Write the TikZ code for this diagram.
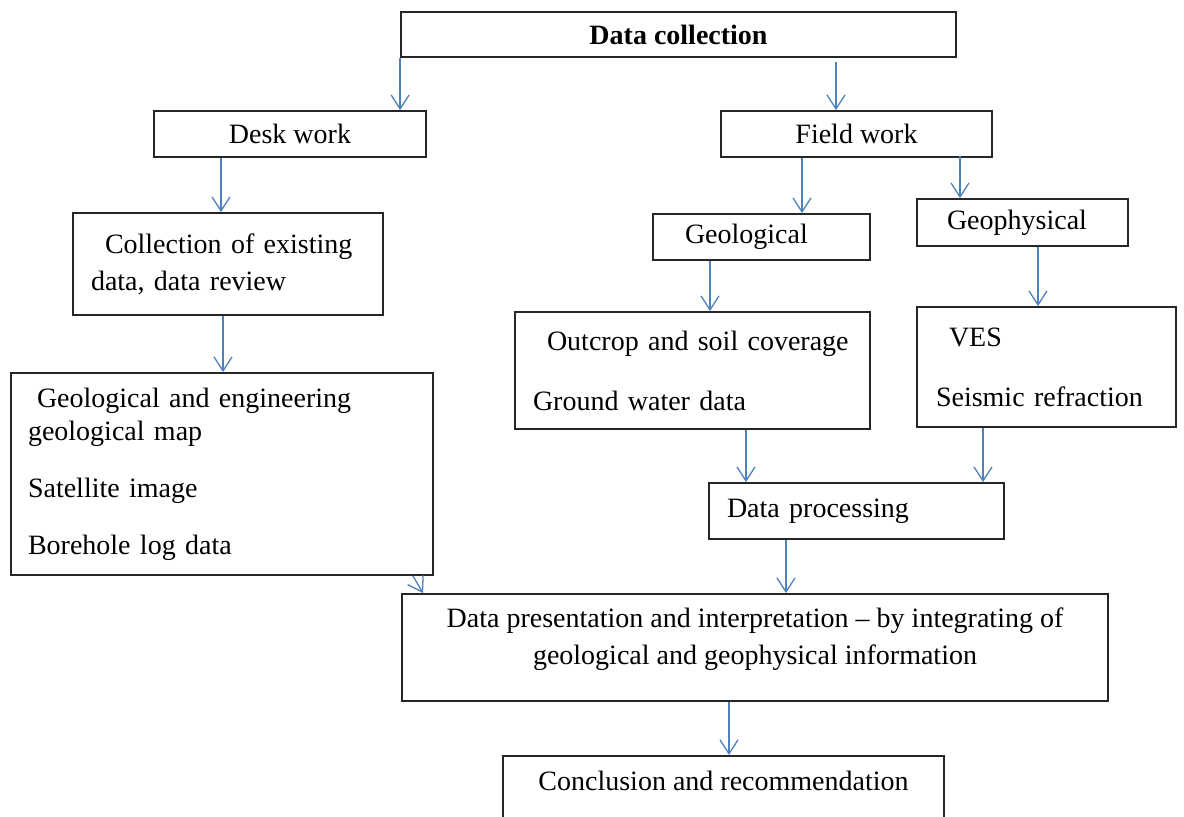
\documentclass[tikz,border=0pt]{standalone}
\usepackage{fontspec}
\setmainfont{Liberation Serif}
\usetikzlibrary{arrows.meta}
\definecolor{arrowblue}{HTML}{4F81BD}
\definecolor{boxline}{HTML}{262626}

\begin{document}
\begin{tikzpicture}[x=0.5pt, y=-0.5pt,
    box/.style={draw=boxline, line width=0.9pt, rectangle, inner ysep=0pt, font=\fontsize{14}{18.5}\selectfont},
    flow/.style={draw=arrowblue, line width=0.65pt, -{Straight Barb[length=7pt, width=9pt]}}]
    \clip (0,0) rectangle (1184,817);
    \node[box, font=\fontsize{14}{18.5}\selectfont\bfseries, minimum width=277.5pt, minimum height=22.5pt] (dc) at (678.5,34.5) {Data collection};
    \node[box, minimum width=136pt, minimum height=23pt] (desk) at (290,134) {Desk work};
    \node[box, minimum width=135.5pt, minimum height=23pt] (field) at (856.5,134) {Field work};
    \node[box, align=left, inner xsep=9pt, text width=137pt, minimum height=51pt] (coll) at (228,264) {\hspace*{7pt}Collection of existing\\data, data review};
    \node[box, align=left, inner xsep=8.5pt, text width=194pt, minimum height=101pt] (maps) at (222,474) {\hspace*{4.5pt}Geological and engineering\\[-2pt]geological map\\[10pt]Satellite image\\[10pt]Borehole log data};
    \node[box, align=left, inner xsep=16pt, text width=76.5pt, minimum height=23pt] (geol) at (761.5,237) {Geological};
    \node[box, align=left, inner xsep=15pt, text width=75.5pt, minimum height=23.5pt] (geoph) at (1022.5,222.5) {Geophysical};
    \node[box, align=left, inner xsep=9pt, text width=159.5pt, minimum height=58.5pt] (outc) at (692.5,370.5) {\hspace*{7pt}Outcrop and soil coverage\\[11.5pt]Ground water data};
    \node[box, align=left, inner xsep=9.5pt, text width=110.5pt, minimum height=60pt] (ves) at (1046.5,367) {\hspace*{6.5pt}VES\\[11.5pt]Seismic refraction};
    \node[box, align=left, inner xsep=9pt, text width=129.5pt, minimum height=28pt] (proc) at (856.5,511) {Data processing};
    \node[box, align=center, minimum width=353pt, minimum height=53.5pt] (pres) at (755,647.5) {Data presentation and interpretation – by integrating of\\geological and geophysical information\\[-7pt]\mbox{}};
    \node[box, align=center, minimum width=220.5pt, inner ysep=7.5pt, anchor=north] (concl) at (723.5,755) {Conclusion and recommendation\\[20pt]\mbox{}};
    \draw[flow] (dc.south west) -- (dc.south west |- desk.north);
    \draw[flow] ([xshift=-10.25pt, yshift=-2pt]field.north |- dc.south) -- ([xshift=-10.25pt]field.north);
    \draw[flow] ([xshift=-3.5pt]coll.north |- desk.south) -- ([xshift=-3.5pt]coll.north);
    \draw[flow] ([xshift=-2.5pt]coll.south) -- ([xshift=-2.5pt]coll.south |- maps.north);
    \draw[flow] ([xshift=20.25pt]geol.north |- field.south) -- ([xshift=20.25pt]geol.north);
    \draw[flow] ([xshift=-31.25pt, yshift=1pt]geoph.north |- field.south) -- ([xshift=-31.25pt]geoph.north);
    \draw[flow] ([xshift=8.75pt]outc.north |- geol.south) -- ([xshift=8.75pt]outc.north);
    \draw[flow] ([xshift=7.75pt]geoph.south) -- ([xshift=7.75pt]geoph.south |- ves.north);
    \draw[flow] ([xshift=26.75pt]outc.south) -- ([xshift=26.75pt]outc.south |- proc.north);
    \draw[flow] ([xshift=-31.75pt]ves.south) -- ([xshift=-31.75pt]ves.south |- proc.north);
    \draw[flow] ([xshift=-10.5pt]maps.south east) -- ([xshift=11pt]pres.north west);
    \draw[flow] ([xshift=-35.25pt]proc.south) -- ([xshift=-35.25pt]proc.south |- pres.north);
    \draw[flow] ([xshift=2.75pt]concl.north |- pres.south) -- ([xshift=2.75pt]concl.north);
\end{tikzpicture}
\end{document}
